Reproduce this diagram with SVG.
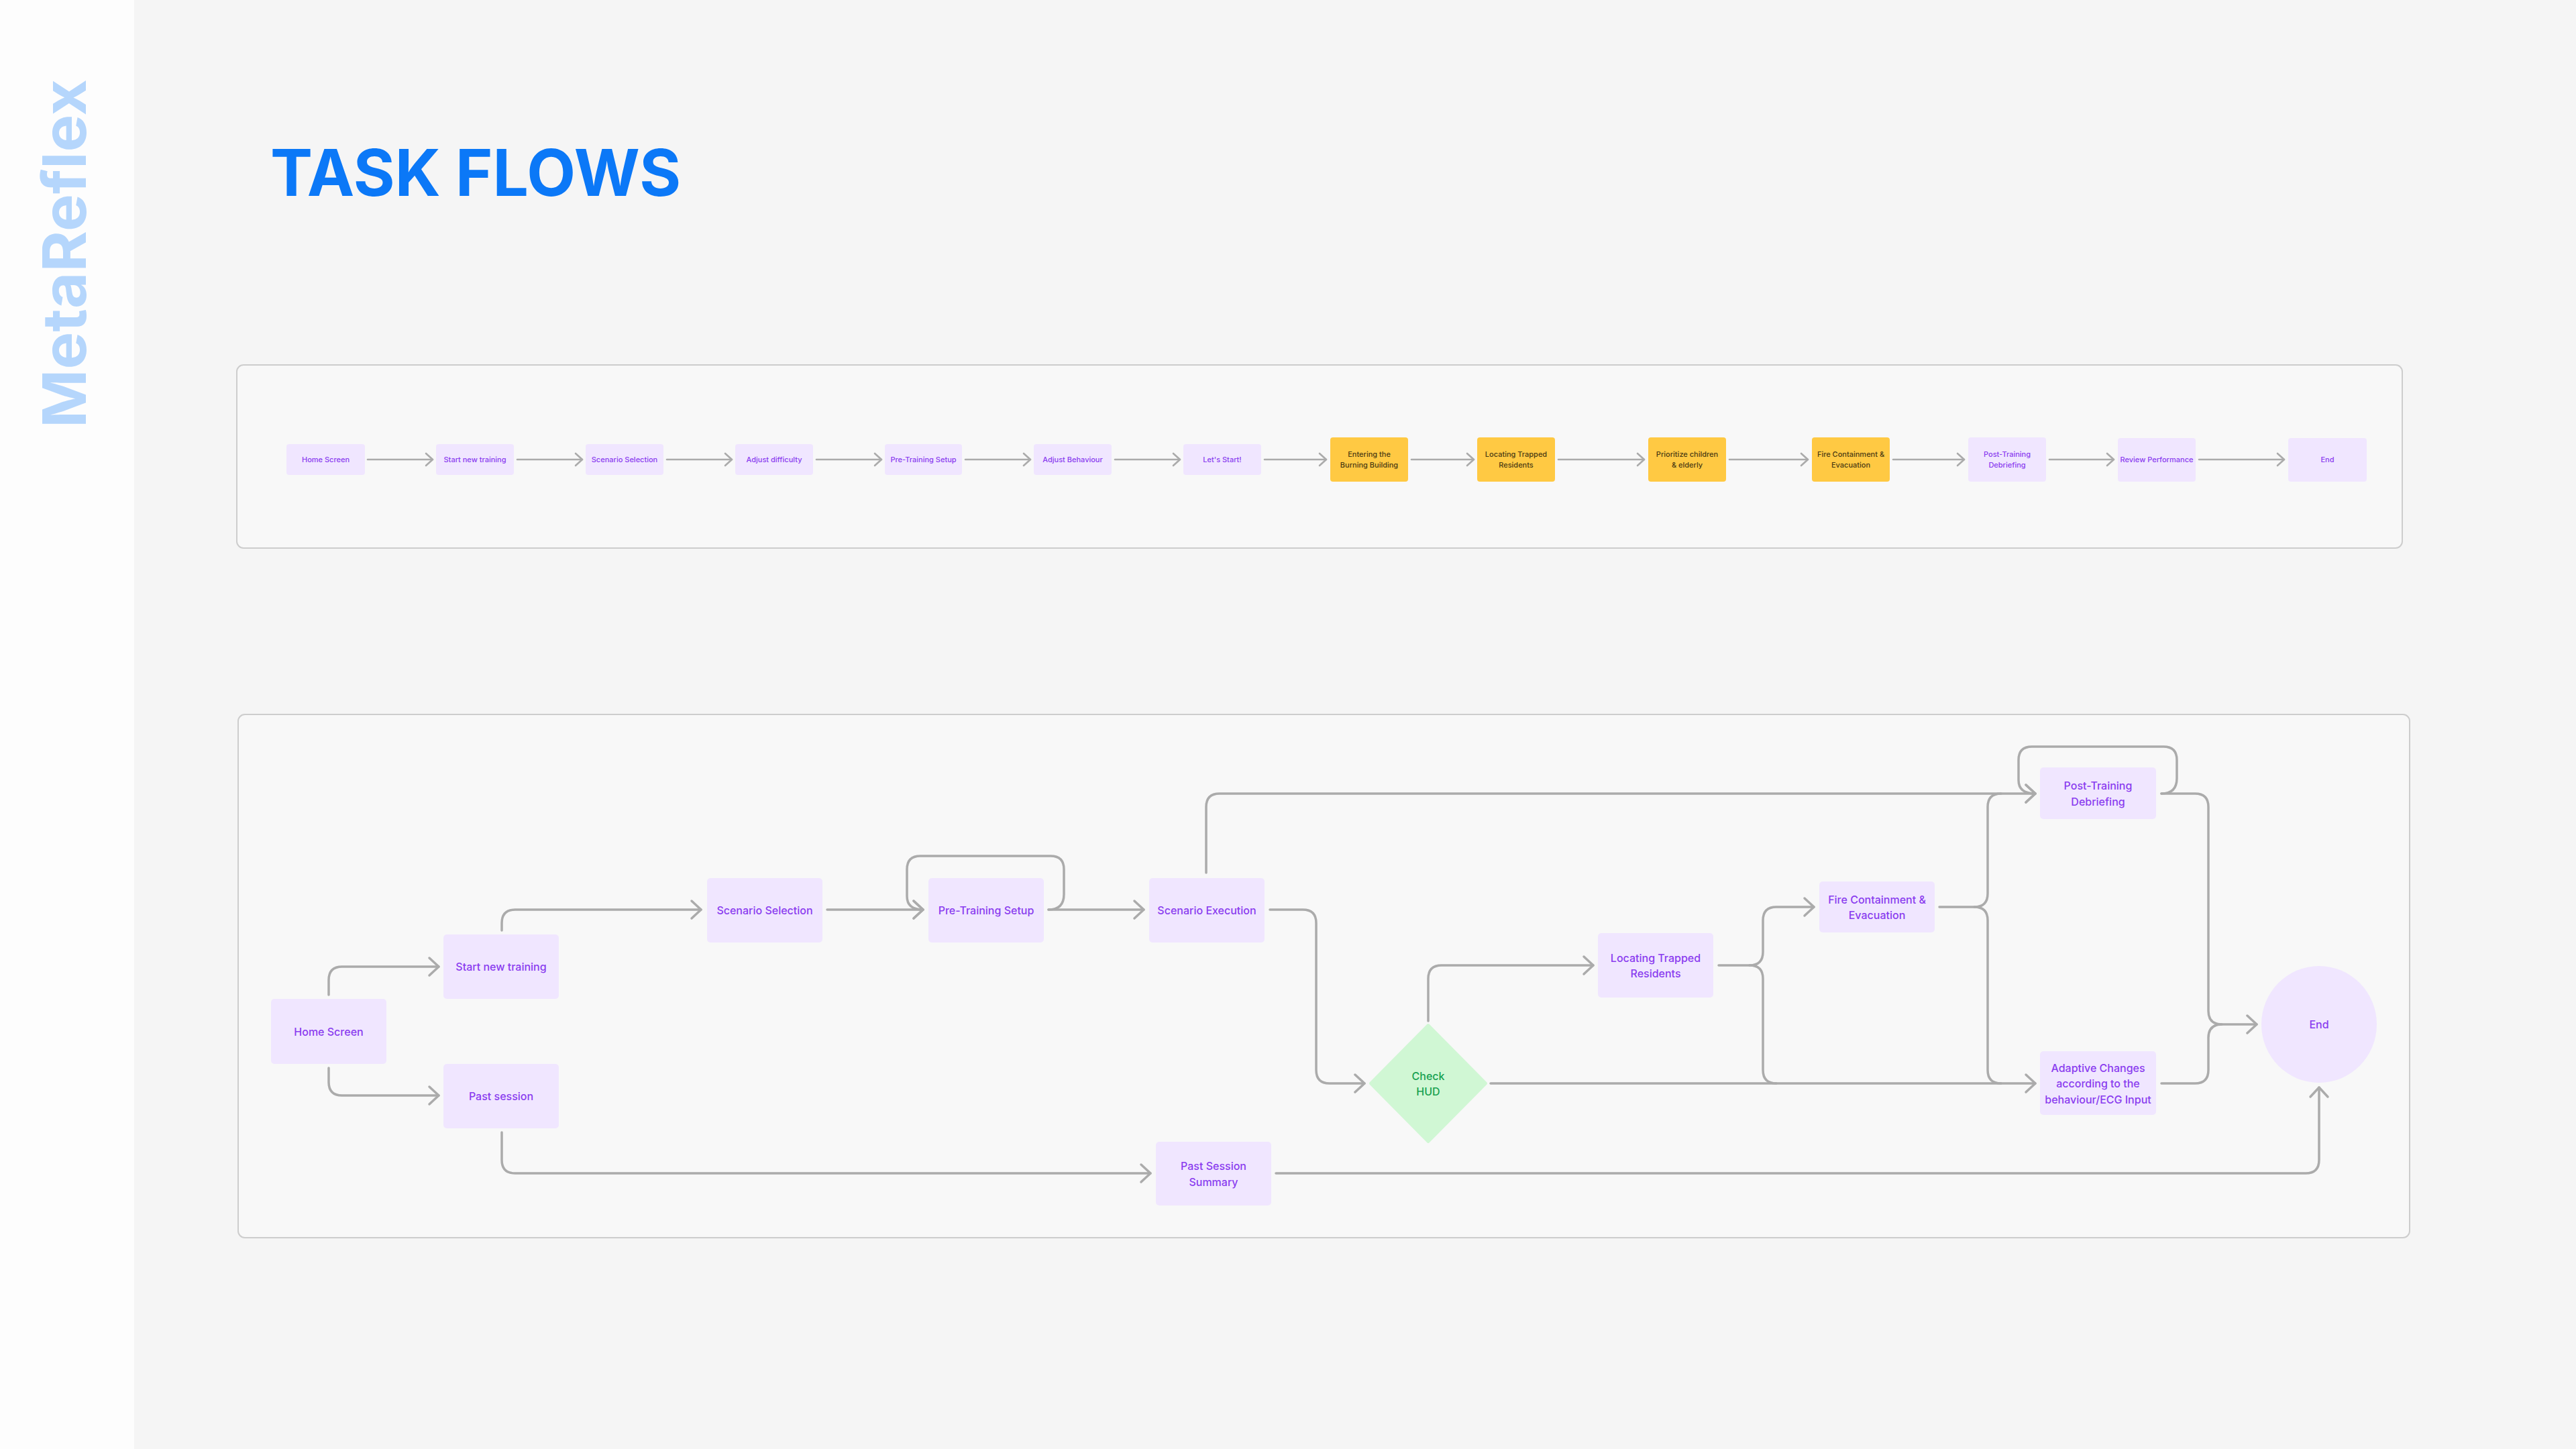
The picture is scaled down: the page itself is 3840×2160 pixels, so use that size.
<svg xmlns="http://www.w3.org/2000/svg" width="3840" height="2160" viewBox="0 0 3840 2160">
<defs>
<style>
.bg{fill:#f5f5f5}
.panel{fill:#f8f8f8;stroke:#cdcdcd;stroke-width:2}
.nd{fill:#f0e6ff}
.yl{fill:#ffc943}
.t{font-family:Inter,"Liberation Sans",sans-serif;font-weight:500;fill:#8a3cef;text-anchor:middle;dominant-baseline:central}
.ts{font-size:11px}
.tb{font-size:16px}
.ty{fill:#4a3a12}
.tg{fill:#17a150}
.c{fill:none;stroke:#ababab;stroke-width:3.5;stroke-linecap:round;stroke-linejoin:round}
.cs{fill:none;stroke:#ababab;stroke-width:2.6;stroke-linecap:round}
</style>
<marker id="ah" viewBox="-17 -16 20 32" refX="0" refY="0" markerWidth="20" markerHeight="32" markerUnits="userSpaceOnUse" orient="auto">
<path d="M-14,-13 L0,0 L-14,13" fill="none" stroke="#ababab" stroke-width="3.5" stroke-linecap="round" stroke-linejoin="round"/>
</marker>
<marker id="as" viewBox="-13 -12 16 24" refX="0" refY="0" markerWidth="16" markerHeight="24" markerUnits="userSpaceOnUse" orient="auto">
<path d="M-10,-9 L0,0 L-10,9" fill="none" stroke="#ababab" stroke-width="2.6" stroke-linecap="round" stroke-linejoin="round"/>
</marker>
</defs>
<rect class="bg" x="0" y="0" width="3840" height="2160"/>
<rect x="0" y="0" width="200" height="2160" fill="#fdfdfd"/>
<text transform="translate(128,638) rotate(-90)" font-family="Inter,'Liberation Sans',sans-serif" font-weight="700" font-size="90" fill="#b5d6fc" textLength="520" lengthAdjust="spacingAndGlyphs">MetaReflex</text>
<text x="403" y="292" font-family="Inter,'Liberation Sans',sans-serif" font-weight="700" font-size="96" fill="#0b78f7" textLength="612" lengthAdjust="spacingAndGlyphs">TASK FLOWS</text>

<rect class="panel" x="353" y="544" width="3228" height="273" rx="10"/>
<rect class="panel" x="355" y="1065" width="3237" height="780" rx="10"/>

<g id="top-connectors">
<path class="cs" d="M548,685 H645" marker-end="url(#as)"/>
<path class="cs" d="M771,685 H868" marker-end="url(#as)"/>
<path class="cs" d="M994,685 H1091" marker-end="url(#as)"/>
<path class="cs" d="M1217,685 H1314" marker-end="url(#as)"/>
<path class="cs" d="M1439,685 H1536" marker-end="url(#as)"/>
<path class="cs" d="M1662,685 H1759" marker-end="url(#as)"/>
<path class="cs" d="M1885,685 H1977" marker-end="url(#as)"/>
<path class="cs" d="M2104,685 H2197" marker-end="url(#as)"/>
<path class="cs" d="M2323,685 H2451" marker-end="url(#as)"/>
<path class="cs" d="M2578,685 H2695" marker-end="url(#as)"/>
<path class="cs" d="M2822,685 H2928" marker-end="url(#as)"/>
<path class="cs" d="M3055,685 H3151" marker-end="url(#as)"/>
<path class="cs" d="M3278,685 H3405" marker-end="url(#as)"/>
</g>

<g id="t-home"><rect class="nd" x="427" y="662" width="117" height="46" rx="4"/><text class="t ts" x="485.5" y="685">Home Screen</text></g>
<g id="t-start"><rect class="nd" x="650" y="662" width="116" height="46" rx="4"/><text class="t ts" x="708" y="685">Start new training</text></g>
<g id="t-scenario"><rect class="nd" x="873" y="662" width="116" height="46" rx="4"/><text class="t ts" x="931" y="685">Scenario Selection</text></g>
<g id="t-difficulty"><rect class="nd" x="1096" y="662" width="116" height="46" rx="4"/><text class="t ts" x="1154" y="685">Adjust difficulty</text></g>
<g id="t-pretraining"><rect class="nd" x="1319" y="662" width="115" height="46" rx="4"/><text class="t ts" x="1376.5" y="685">Pre-Training Setup</text></g>
<g id="t-behaviour"><rect class="nd" x="1541" y="662" width="116" height="46" rx="4"/><text class="t ts" x="1599" y="685">Adjust Behaviour</text></g>
<g id="t-letsstart"><rect class="nd" x="1764" y="662" width="116" height="46" rx="4"/><text class="t ts" x="1822" y="685">Let's Start!</text></g>
<g id="t-entering"><rect class="yl" x="1983" y="652" width="116" height="66" rx="4"/><text class="t ts ty" x="2041" y="677">Entering the</text><text class="t ts ty" x="2041" y="693">Burning Building</text></g>
<g id="t-locating"><rect class="yl" x="2202" y="652" width="116" height="66" rx="4"/><text class="t ts ty" x="2260" y="677">Locating Trapped</text><text class="t ts ty" x="2260" y="693">Residents</text></g>
<g id="t-prioritize"><rect class="yl" x="2457" y="652" width="116" height="66" rx="4"/><text class="t ts ty" x="2515" y="677">Prioritize children</text><text class="t ts ty" x="2515" y="693">&amp; elderly</text></g>
<g id="t-fire"><rect class="yl" x="2701" y="652" width="116" height="66" rx="4"/><text class="t ts ty" x="2759" y="677">Fire Containment &amp;</text><text class="t ts ty" x="2759" y="693">Evacuation</text></g>
<g id="t-debrief"><rect class="nd" x="2934" y="652" width="116" height="66" rx="4"/><text class="t ts" x="2992" y="677">Post-Training</text><text class="t ts" x="2992" y="693">Debriefing</text></g>
<g id="t-review"><rect class="nd" x="3157" y="653" width="116" height="65" rx="4"/><text class="t ts" x="3215" y="685">Review Performance</text></g>
<g id="t-end"><rect class="nd" x="3411" y="653" width="117" height="65" rx="4"/><text class="t ts" x="3469.5" y="685">End</text></g>

<g id="connectors">
<path class="c" d="M490,1483 V1461 Q490,1441 510,1441 H654" marker-end="url(#ah)"/>
<path class="c" d="M490,1592 V1613 Q490,1633 510,1633 H654" marker-end="url(#ah)"/>
<path class="c" d="M748,1387 V1376 Q748,1356 768,1356 H1045" marker-end="url(#ah)"/>
<path class="c" d="M1233,1356 H1376" marker-end="url(#ah)"/>
<path class="c" d="M1563,1356 Q1586,1356 1586,1333 V1296 Q1586,1276 1566,1276 H1372 Q1352,1276 1352,1296 V1336 Q1352,1356 1376,1356" marker-end="url(#ah)"/>
<path class="c" d="M1563,1356 H1705" marker-end="url(#ah)"/>
<path class="c" d="M1798,1301 V1203 Q1798,1183 1818,1183 H3034" marker-end="url(#ah)"/>
<path class="c" d="M1893,1356 H1942 Q1962,1356 1962,1376 V1595 Q1962,1615 1982,1615 H2034" marker-end="url(#ah)"/>
<path class="c" d="M2129,1522 V1459 Q2129,1439 2149,1439 H2375" marker-end="url(#ah)"/>
<path class="c" d="M2222,1615 H3034" marker-end="url(#ah)"/>
<path class="c" d="M2562,1439 H2608 Q2628,1439 2628,1419 V1372 Q2628,1352 2648,1352 H2704" marker-end="url(#ah)"/>
<path class="c" d="M2608,1439 Q2628,1439 2628,1459 V1595 Q2628,1615 2648,1615"/>
<path class="c" d="M2891,1352 H2943 Q2963,1352 2963,1332 V1203 Q2963,1183 2983,1183"/>
<path class="c" d="M2943,1352 Q2963,1352 2963,1372 V1595 Q2963,1615 2983,1615"/>
<path class="c" d="M3222,1183 Q3245,1183 3245,1160 V1133 Q3245,1113 3225,1113 H3029 Q3009,1113 3009,1133 V1163 Q3009,1183 3034,1183" marker-end="url(#ah)"/>
<path class="c" d="M3222,1183 H3272 Q3292,1183 3292,1203 V1507 Q3292,1527 3312,1527 H3364" marker-end="url(#ah)"/>
<path class="c" d="M3222,1615 H3272 Q3292,1615 3292,1595 V1547 Q3292,1527 3312,1527"/>
<path class="c" d="M748,1688 V1729 Q748,1749 768,1749 H1715" marker-end="url(#ah)"/>
<path class="c" d="M1902,1749 H3437 Q3457,1749 3457,1729 V1621" marker-end="url(#ah)"/>
</g>

<g id="home"><rect class="nd" x="404" y="1489" width="172" height="97" rx="5"/><text class="t tb" x="490" y="1537.5">Home Screen</text></g>
<g id="start-new-training"><rect class="nd" x="661" y="1393" width="172" height="96" rx="5"/><text class="t tb" x="747" y="1441">Start new training</text></g>
<g id="past-session"><rect class="nd" x="661" y="1586" width="172" height="96" rx="5"/><text class="t tb" x="747" y="1634">Past session</text></g>
<g id="scenario-selection"><rect class="nd" x="1054" y="1309" width="172" height="96" rx="5"/><text class="t tb" x="1140" y="1357">Scenario Selection</text></g>
<g id="pre-training-setup"><rect class="nd" x="1384" y="1309" width="172" height="96" rx="5"/><text class="t tb" x="1470" y="1357">Pre-Training Setup</text></g>
<g id="scenario-execution"><rect class="nd" x="1713" y="1309" width="172" height="96" rx="5"/><text class="t tb" x="1799" y="1357">Scenario Execution</text></g>
<g id="past-session-summary"><rect class="nd" x="1723" y="1702" width="172" height="95" rx="5"/><text class="t tb" x="1809" y="1738">Past Session</text><text class="t tb" x="1809" y="1761.5">Summary</text></g>
<g id="check-hud"><polygon points="2129,1528 2215,1615 2129,1702 2043,1615" fill="#d0f7d4" stroke="#d0f7d4" stroke-width="4" stroke-linejoin="round"/><text class="t tb tg" x="2129" y="1603.5">Check</text><text class="t tb tg" x="2129" y="1627">HUD</text></g>
<g id="locating-trapped-residents"><rect class="nd" x="2382" y="1391" width="172" height="96" rx="5"/><text class="t tb" x="2468" y="1427.5">Locating Trapped</text><text class="t tb" x="2468" y="1451">Residents</text></g>
<g id="fire-containment"><rect class="nd" x="2712" y="1314" width="172" height="76" rx="5"/><text class="t tb" x="2798" y="1340.5">Fire Containment &amp;</text><text class="t tb" x="2798" y="1364">Evacuation</text></g>
<g id="post-training-debriefing"><rect class="nd" x="3041" y="1144" width="173" height="77" rx="5"/><text class="t tb" x="3127.5" y="1171">Post-Training</text><text class="t tb" x="3127.5" y="1194.5">Debriefing</text></g>
<g id="adaptive-changes"><rect class="nd" x="3041" y="1567" width="173" height="95" rx="5"/><text class="t tb" x="3127.5" y="1591.5">Adaptive Changes</text><text class="t tb" x="3127.5" y="1615">according to the</text><text class="t tb" x="3127.5" y="1638.5">behaviour/ECG Input</text></g>
<g id="end"><ellipse class="nd" cx="3457" cy="1527" rx="86" ry="87"/><text class="t tb" x="3457" y="1527">End</text></g>
</svg>
